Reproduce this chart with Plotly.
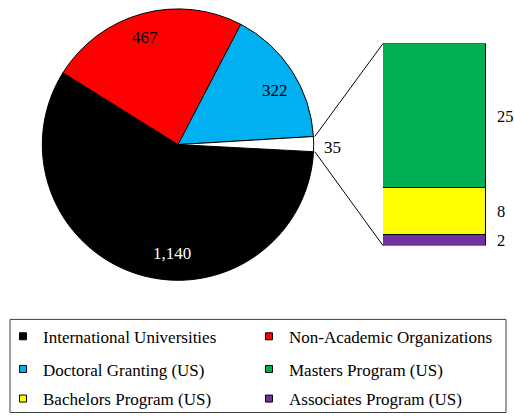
import numpy as np
import plotly.graph_objects as go

W, H = 514, 417
FONT = "Liberation Serif, Times New Roman, serif"

# ---- data ----
pie_labels = ["International Universities", "Non-Academic Organizations",
              "Doctoral Granting (US)", "Other"]
pie_values = [1140, 467, 322, 35]
pie_colors = ["#000000", "#FF0000", "#00B0F0", "#FFFFFF"]
pie_text_colors = ["#FFFFFF", "#000000", "#000000", "#000000"]

bar_labels = ["Associates Program (US)", "Bachelors Program (US)", "Masters Program (US)"]
bar_values = [2, 8, 25]
bar_colors = ["#7030A0", "#FFFF00", "#00B050"]

legend_order = [
    ["International Universities", "Non-Academic Organizations"],
    ["Doctoral Granting (US)", "Masters Program (US)"],
    ["Bachelors Program (US)", "Associates Program (US)"],
]
color_of = dict(zip(pie_labels + bar_labels, pie_colors + bar_colors))

# ---- layout geometry (pixels) ----
cx, cy, R = 178, 146, 137
rotation = 93
bar_x0, bar_x1, bar_top, bar_bot = 383, 486, 44, 248
# data-label anchor points (pixels) for the pie slices, Excel "best fit" style
pie_label_px = [(172, 255), (145, 37), (275, 90), (332, 148)]

fig = go.Figure()

fig.add_trace(go.Pie(
    labels=pie_labels, values=pie_values, sort=False, direction="clockwise",
    rotation=rotation,
    marker=dict(colors=pie_colors, line=dict(color="#000000", width=1)),
    textinfo="none",
    domain=dict(x=[(cx - R) / W, (cx + R) / W], y=[1 - (cy + R) / H, 1 - (cy - R) / H]),
    showlegend=False, hoverinfo="skip",
))

for lab, val, col in zip(bar_labels, bar_values, bar_colors):
    fig.add_trace(go.Bar(
        x=["Other"], y=[val], name=lab, marker=dict(color=col, line=dict(color="#000000", width=1)),
        showlegend=False, hoverinfo="skip",
    ))

annotations = []
# pie value labels
for val, tc, (lx, ly) in zip(pie_values, pie_text_colors, pie_label_px):
    annotations.append(dict(
        x=lx / W, y=1 - ly / H, xref="paper", yref="paper", text=f"{val:,}",
        showarrow=False, xanchor="center", yanchor="middle", yshift=-1, borderpad=0,
        font=dict(family=FONT, size=17, color=tc),
    ))

# bar value labels
cum = np.cumsum(bar_values)
for val, c in zip(bar_values, cum):
    annotations.append(dict(
        x=496 / W, xref="paper", y=c - val / 2, yref="y", text=str(val),
        showarrow=False, xanchor="left", yanchor="middle", yshift=-1, borderpad=0,
        font=dict(family=FONT, size=16.5, color="#000000"),
    ))

# connector lines from the "Other" slice to the bar
total = sum(pie_values)
start_ang = rotation + 360 * sum(pie_values[:-1]) / total
end_ang = rotation + 360
shapes = []
for ang, by in [(start_ang, bar_top), (end_ang, bar_bot)]:
    a = np.deg2rad(ang)
    px = cx + R * np.sin(a)
    py = cy - R * np.cos(a)
    shapes.append(dict(type="line", xref="paper", yref="paper",
                       x0=px / W, y0=1 - py / H, x1=bar_x0 / W, y1=1 - by / H,
                       line=dict(color="#000000", width=1)))

# legend box
shapes.append(dict(type="rect", xref="paper", yref="paper",
                   x0=10 / W, x1=506 / W, y0=1 - 416.5 / H, y1=1 - 322.5 / H,
                   line=dict(color="#404040", width=1), fillcolor="rgba(0,0,0,0)"))

# legend entries
legend_names = ["legend", "legend2", "legend3"]
row_y = [340, 373, 403]
for lname, row in zip(legend_names, legend_order):
    for lab in row:
        fig.add_trace(go.Scatter(
            x=[None], y=[None], mode="markers", name=lab, legend=lname,
            marker=dict(symbol="square", size=7, color=color_of[lab],
                        line=dict(color="#000000", width=1)),
            hoverinfo="skip",
        ))

layout_legends = {}
for lname, ry in zip(legend_names, row_y):
    layout_legends[lname] = dict(
        orientation="h", x=3 / W, xanchor="left", y=1 - ry / H, yanchor="middle",
        entrywidth=201, entrywidthmode="pixels", traceorder="normal",
        font=dict(family=FONT, size=17, color="#000000"),
        bgcolor="rgba(0,0,0,0)", borderwidth=0, itemclick=False, itemdoubleclick=False,
    )

fig.update_layout(
    width=W, height=H, margin=dict(l=0, r=0, t=0, b=0),
    paper_bgcolor="#FFFFFF", plot_bgcolor="rgba(0,0,0,0)",
    barmode="stack", bargap=0,
    xaxis=dict(domain=[bar_x0 / W, bar_x1 / W], range=[-0.5, 0.5], visible=False, fixedrange=True),
    yaxis=dict(domain=[1 - bar_bot / H, 1 - bar_top / H], range=[0, sum(bar_values)],
               visible=False, fixedrange=True),
    annotations=annotations, shapes=shapes,
    font=dict(family=FONT, size=17),
    **layout_legends,
)

fig.write_html("out.html", config={"displayModeBar": False},
               post_script="document.body.style.margin='0px';")
